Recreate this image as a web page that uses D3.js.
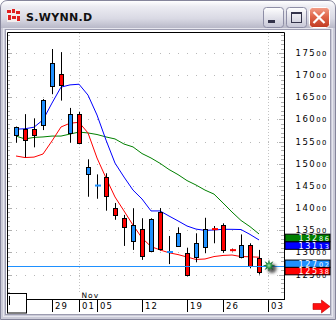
<!DOCTYPE html>
<html>
<head>
<meta charset="utf-8">
<script src="https://cdn.jsdelivr.net/npm/d3@7"></script>
<style>
  body { margin: 0; background: #fff; }
  svg { display: block; }
</style>
</head>
<body>
<svg class="chart" width="336" height="320"></svg>
<script>
// daily bars, S.WYNN.D
const dates = [
  "2007-10-23", "2007-10-24", "2007-10-25", "2007-10-26", "2007-10-29", "2007-10-30", "2007-10-31",
  "2007-11-01", "2007-11-02", "2007-11-05", "2007-11-06", "2007-11-07", "2007-11-08", "2007-11-09",
  "2007-11-12", "2007-11-13", "2007-11-14", "2007-11-15", "2007-11-16", "2007-11-19", "2007-11-20",
  "2007-11-21", "2007-11-23", "2007-11-26", "2007-11-27", "2007-11-28", "2007-11-29", "2007-11-30"
];
const nextDate = "2007-12-03";

const open  = [15640, 15780, 15780, 15870, 16755, 17025, 15690, 16115, 14760, 14500, 14695, 13995, 13770, 13265,
               13520, 13035, 13910, 13000, 13150, 12980, 12890, 13115, 13550, 13625, 13070, 12890, 13165, 12865];
const high  = [15840, 16120, 16025, 16460, 17590, 17520, 16260, 16170, 15100, 14760, 14785, 14115, 13845, 13995,
               13770, 13770, 14000, 13370, 13565, 13105, 13430, 13780, 13595, 13655, 13085, 13405, 13205, 13055];
const low   = [15475, 15145, 15370, 15760, 16570, 16425, 15475, 15445, 14255, 14210, 13940, 13735, 13145, 13055,
               12830, 13015, 13040, 12735, 13140, 12455, 12775, 12980, 13205, 12990, 13020, 12865, 12640, 12500];
const close = [15820, 15535, 15640, 16440, 17270, 16770, 16115, 15460, 14920, 14515, 14265, 13835, 13580, 13610,
               12925, 13745, 13070, 13015, 13430, 12490, 13205, 13520, 13500, 13055, 13030, 13165, 12690, 12560];

// moving averages as drawn
const maShort = [15175, 15140, 15150, 15220, 15515, 15830, 15915, 15935, 15695, 15130, 14680, 14250, 13935, 13615,
                 13325, 13130, 13055, 12990, 12950, 12895, 12840, 12850, 12905, 12930, 12940, 12905, 12900, 12890];
const maMid   = [15780, 15790, 15825, 15990, 16370, 16730, 16780, 16795, 16550, 16100, 15535, 15015, 14700, 14405,
                 14205, 13935, 13935, 13820, 13710, 13595, 13525, 13495, 13505, 13520, 13520, 13515, 13405, 13280];
const maLong  = [15625, 15560, 15595, 15605, 15625, 15625, 15670, 15715, 15695, 15660, 15605, 15560, 15445, 15380,
                 15230, 15130, 15010, 14870, 14755, 14620, 14520, 14405, 14315, 14115, 13910, 13720, 13580, 13415];

const priceTicks = [12500, 13000, 13500, 14000, 14500, 15000, 15500, 16000, 16500, 17000, 17500];
const dateTicks = ["2007-10-29", "2007-11-01", "2007-11-05", "2007-11-12", "2007-11-19", "2007-11-26", "2007-12-03"];
const monthStarts = ["2007-11-01", "2007-12-03"];
const lineLevel = 12702;
const tagValues = [13286, 13113, 12702, 12538];
const tagColors = ["#008000", "#0000ff", "#1e90ff", "#ff0000"];

const svg = d3.select(".chart");
const defs = svg.append("defs");

// ---------- window chrome ----------
const tg = defs.append("linearGradient").attr("id", "titleGrad").attr("x1", 0).attr("y1", 0).attr("x2", 0).attr("y2", 1);
tg.append("stop").attr("offset", "0%").attr("stop-color", "#ffffff");
tg.append("stop").attr("offset", "20%").attr("stop-color", "#ececf2");
tg.append("stop").attr("offset", "65%").attr("stop-color", "#d9d9e4");
tg.append("stop").attr("offset", "100%").attr("stop-color", "#b8b8c8");

const bg = defs.append("linearGradient").attr("id", "btnGrad").attr("x1", 0).attr("y1", 0).attr("x2", 0).attr("y2", 1);
bg.append("stop").attr("offset", "0%").attr("stop-color", "#ffffff");
bg.append("stop").attr("offset", "100%").attr("stop-color", "#c6c6d6");

const cg = defs.append("linearGradient").attr("id", "closeGrad").attr("x1", 0).attr("y1", 0).attr("x2", 0).attr("y2", 1);
cg.append("stop").attr("offset", "0%").attr("stop-color", "#f3a08a");
cg.append("stop").attr("offset", "45%").attr("stop-color", "#e0664a");
cg.append("stop").attr("offset", "100%").attr("stop-color", "#c03a22");

const sg = defs.append("radialGradient").attr("id", "starGrad");
sg.append("stop").attr("offset", "0%").attr("stop-color", "#9be8a8");
sg.append("stop").attr("offset", "45%").attr("stop-color", "#1f8a3c");
sg.append("stop").attr("offset", "100%").attr("stop-color", "#0b4a1e");

defs.append("filter").attr("id", "blur").attr("x", "-1").attr("y", "-1").attr("width", 3).attr("height", 3)
  .append("feGaussianBlur").attr("stdDeviation", 1.8);

svg.append("rect").attr("width", 336).attr("height", 320).attr("fill", "#ffffff");

// frame body
svg.append("path")
  .attr("d", "M0.5,8 Q0.5,0.5 8,0.5 L328,0.5 Q335.5,0.5 335.5,8 L335.5,319.5 L0.5,319.5 Z")
  .attr("fill", "#cbcbd8")
  .attr("stroke", "#85859b");

// title bar
svg.append("path")
  .attr("d", "M1,8 Q1,1 8,1 L328,1 Q335,1 335,8 L335,28 L1,28 Z")
  .attr("fill", "url(#titleGrad)");

// inner frame lines
svg.append("rect").attr("x", 3.5).attr("y", 28.5).attr("width", 329).attr("height", 288)
  .attr("fill", "none").attr("stroke", "#e6e6ee");
svg.append("rect").attr("x", 5.5).attr("y", 29.5).attr("width", 325).attr("height", 285)
  .attr("fill", "#ffffff").attr("stroke", "#9c9cb0");

// icon
const icon = svg.append("g");
icon.append("rect").attr("x", 7).attr("y", 9).attr("width", 13).attr("height", 13).attr("fill", "#f2eeee");
[[7, 10, 4, 3], [12, 9, 3, 4], [16, 11, 4, 3], [8, 15, 3, 5], [12, 16, 4, 3], [17, 16, 3, 5]].forEach(r => {
  icon.append("rect").attr("x", r[0]).attr("y", r[1]).attr("width", r[2]).attr("height", r[3]).attr("fill", "#e02020");
});

svg.append("text")
  .attr("x", 26).attr("y", 21)
  .attr("font-family", "DejaVu Sans, sans-serif")
  .attr("font-size", 11).attr("font-weight", "bold")
  .attr("letter-spacing", 0.3)
  .attr("fill", "#111")
  .text("S.WYNN.D");

// caption buttons
const btn = (x, fill, stroke) => svg.append("rect")
  .attr("x", x + 0.5).attr("y", 7.5).attr("width", 20).attr("height", 20).attr("rx", 3)
  .attr("fill", fill).attr("stroke", stroke);
btn(263, "url(#btnGrad)", "#8e8ea6");
btn(286, "url(#btnGrad)", "#8e8ea6");
btn(309, "url(#closeGrad)", "#ffffff");
svg.append("rect").attr("x", 268).attr("y", 20).attr("width", 7).attr("height", 3).attr("fill", "#33334a");
svg.append("rect").attr("x", 291.5).attr("y", 12.5).attr("width", 10).attr("height", 10)
  .attr("fill", "none").attr("stroke", "#33334a");
svg.append("rect").attr("x", 291).attr("y", 12).attr("width", 11).attr("height", 2).attr("fill", "#33334a");
svg.append("path").attr("d", "M313.5,12 L324.5,23 M324.5,12 L313.5,23")
  .attr("stroke", "#ffffff").attr("stroke-width", 2.2);

// ---------- chart ----------
const plot = { left: 7, right: 284, top: 32, bottom: 293 };

const x = d3.scalePoint().domain([...dates, nextDate]).range([16, 268]);
const y = d3.scaleLinear().domain([12500, 17500]).range([274.5, 53]);
const px = v => Math.round(y(v));

const chart = svg.append("g");

// horizontal dotted grid
const dotXs = d3.range(x(dates[0]), plot.right, x.step());
priceTicks.forEach(v => {
  chart.selectAll(null).data(dotXs).join("rect")
    .attr("x", d => Math.round(d)).attr("y", px(v))
    .attr("width", 1).attr("height", 1).attr("fill", "#b8b8b8");
});

// month separators
monthStarts.forEach(d => {
  chart.append("line")
    .attr("x1", Math.round(x(d)) + 0.5).attr("x2", Math.round(x(d)) + 0.5)
    .attr("y1", plot.top + 1).attr("y2", plot.bottom)
    .attr("stroke", "#c4c4c4").attr("stroke-dasharray", "1,2");
});

// axis minor ticks on both edges
d3.range(12100, 18000, 100).forEach(v => {
  const yy = px(v) + 0.5;
  if (yy < plot.top + 1 || yy > plot.bottom) return;
  const len = v % 500 === 0 ? 5 : 3;
  chart.append("line").attr("x1", plot.left).attr("x2", plot.left + len).attr("y1", yy).attr("y2", yy)
    .attr("stroke", "#b0b0b0");
  chart.append("line").attr("x1", plot.right - len).attr("x2", plot.right).attr("y1", yy).attr("y2", yy)
    .attr("stroke", "#b0b0b0");
});

// moving averages
const maLine = d3.line().x((d, i) => x(dates[i])).y(d => y(d));
[[maLong, "#008000"], [maMid, "#0000ff"], [maShort, "#ff0000"]].forEach(([s, c]) => {
  chart.append("path").datum(s).attr("d", maLine)
    .attr("fill", "none").attr("stroke", c).attr("stroke-width", 1);
});

// candles
const bars = dates.map((d, i) => ({ d, o: open[i], h: high[i], l: low[i], c: close[i] }));
const candle = chart.selectAll(".candle").data(bars).join("g").attr("class", "candle");
candle.append("line")
  .attr("x1", b => Math.round(x(b.d)) + 0.5).attr("x2", b => Math.round(x(b.d)) + 0.5)
  .attr("y1", b => y(b.h)).attr("y2", b => y(b.l))
  .attr("stroke", "#000");
candle.each(function (b) {
  const g = d3.select(this);
  const cx = Math.round(x(b.d));
  const top = y(Math.max(b.o, b.c)), bot = y(Math.min(b.o, b.c));
  const col = b.c >= b.o ? "#1e90ff" : "#ff0000";
  if (bot - top < 3) {
    g.append("rect").attr("x", cx - 2).attr("y", (top + bot) / 2 - 1)
      .attr("width", 6).attr("height", 2).attr("fill", col);
  } else {
    g.append("rect").attr("x", cx - 1.5).attr("y", Math.round(top) + 0.5)
      .attr("width", 4).attr("height", Math.round(bot) - Math.round(top))
      .attr("fill", col).attr("stroke", "#000");
  }
});

// level line
chart.append("line")
  .attr("x1", plot.left).attr("x2", plot.right)
  .attr("y1", px(lineLevel) + 0.5).attr("y2", px(lineLevel) + 0.5)
  .attr("stroke", "#1e90ff");

// marker star at next bar
const sx = x(nextDate) + 1, sy = y(lineLevel);
chart.append("circle").attr("cx", sx + 3).attr("cy", sy + 3).attr("r", 4.5)
  .attr("fill", "#202020").attr("opacity", 0.75).attr("filter", "url(#blur)");
const starPts = d3.range(16).map(k => {
  const a = k * Math.PI / 8, r = k % 2 ? 2.6 : 6.2;
  return [sx + r * Math.cos(a), sy + r * Math.sin(a)];
});
chart.append("polygon").attr("points", starPts.map(p => p.join(",")).join(" "))
  .attr("fill", "url(#starGrad)");

// plot frame
svg.append("path")
  .attr("d", `M${plot.left + 0.5},${plot.bottom} V${plot.top + 0.5} H${plot.right + 0.5} V299.5`)
  .attr("fill", "none").attr("stroke", "#000");
svg.append("line").attr("x1", 27).attr("x2", plot.right + 1).attr("y1", 299.5).attr("y2", 299.5)
  .attr("stroke", "#000");
svg.append("rect").attr("x", 7.5).attr("y", 293.5).attr("width", 19).attr("height", 19.5)
  .attr("fill", "#fff").attr("stroke", "#000");
svg.append("line").attr("x1", 9.5).attr("x2", 9.5).attr("y1", 296).attr("y2", 305).attr("stroke", "#000");

// price labels, last two digits set smaller
const priceLabel = (sel, v, big, small) => {
  const s = String(v);
  sel.append("tspan").attr("font-size", big).text(s.slice(0, -2));
  sel.append("tspan").attr("font-size", small).text(s.slice(-2));
};
priceTicks.forEach(v => {
  const t = svg.append("text")
    .attr("x", 295.5).attr("y", y(v) + 3)
    .attr("font-family", "DejaVu Sans, sans-serif")
    .attr("letter-spacing", 1.5).attr("fill", "#000");
  priceLabel(t, v, 8.5, 6.8);
});

// value tags
tagValues.forEach((v, i) => {
  const top = y(v) - 5.5;
  svg.append("rect").attr("x", 285).attr("y", top).attr("width", 45).attr("height", 7.5)
    .attr("fill", tagColors[i]).attr("stroke", "#000").attr("stroke-width", 1);
  const t = svg.append("text")
    .attr("x", 298.5).attr("y", top + 6.8)
    .attr("font-family", "DejaVu Sans, sans-serif")
    .attr("letter-spacing", 1.7).attr("fill", "#fff");
  priceLabel(t, v, 8, 6.5);
});

// date axis
const fmtDay = d3.timeFormat("%d"), parse = d3.timeParse("%Y-%m-%d");
const dateAxis = svg.append("g");
dateTicks.forEach(d => {
  const tx = Math.round(x(d)) + 0.5;
  dateAxis.append("line").attr("x1", tx).attr("x2", tx).attr("y1", 299.5).attr("y2", 312)
    .attr("stroke", "#000");
  dateAxis.append("text").attr("x", tx + 2.5).attr("y", 308.5)
    .attr("font-family", "DejaVu Sans, sans-serif").attr("font-size", 8.5)
    .attr("letter-spacing", 1).attr("fill", "#000")
    .text(fmtDay(parse(d)));
});
dateAxis.append("text").attr("x", x(monthStarts[0]) + 2.5).attr("y", 297.5)
  .attr("font-family", "DejaVu Sans, sans-serif").attr("font-size", 7.5)
  .attr("letter-spacing", 1).attr("fill", "#000")
  .text(d3.timeFormat("%b")(parse(monthStarts[0])));

// scroll arrow
svg.append("polygon")
  .attr("points", "313,303.5 321.5,303.5 321.5,300 330,306.5 321.5,313 321.5,309.5 313,309.5")
  .attr("fill", "#ff1010").attr("stroke", "#c00000").attr("stroke-width", 0.6);
</script>
</body>
</html>
